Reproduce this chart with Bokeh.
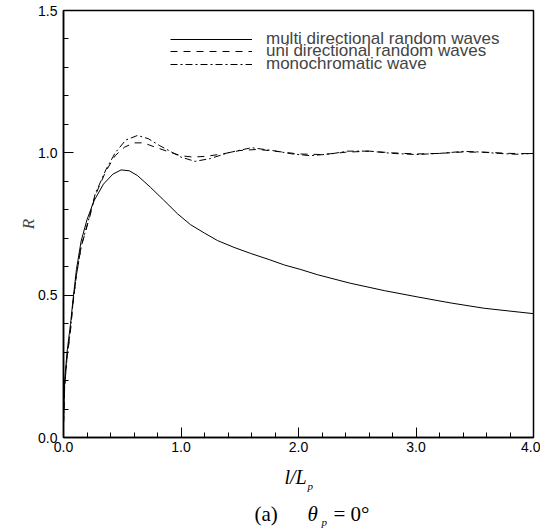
from bokeh.plotting import figure
from bokeh.layouts import column
from bokeh.models import (FixedTicker, PrintfTickFormatter, Legend, LegendItem, Range1d)
from bokeh.core.properties import value
from bokeh.embed import file_html
from bokeh.resources import INLINE

# ---- data ----
multi_x = [0, 0.01, 0.03, 0.06, 0.08, 0.11, 0.15, 0.2, 0.26, 0.34, 0.42, 0.49, 0.56, 0.63,
           0.74, 0.85, 0.97, 1.08, 1.2, 1.31, 1.45, 1.59, 1.75, 1.88, 2.02, 2.16, 2.44,
           2.73, 3.01, 3.29, 3.58, 4.0]
multi_r = [0.05, 0.2, 0.30, 0.40, 0.48, 0.59, 0.69, 0.765, 0.832, 0.89, 0.925, 0.94, 0.937,
           0.92, 0.879, 0.835, 0.786, 0.748, 0.718, 0.692, 0.668, 0.647, 0.625, 0.606, 0.59,
           0.572, 0.542, 0.516, 0.494, 0.473, 0.454, 0.435]

uni_x = [0, 0.01, 0.03, 0.06, 0.08, 0.11, 0.15, 0.22, 0.27, 0.36, 0.44, 0.52, 0.6, 0.68,
         0.78, 0.9, 1.0, 1.1, 1.22, 1.35, 1.5, 1.65, 1.8, 2.0, 2.2, 2.4, 2.6, 2.8, 3.0,
         3.2, 3.4, 3.6, 3.8, 4.0]
uni_r = [0.05, 0.18, 0.28, 0.38, 0.47, 0.57, 0.67, 0.77, 0.85, 0.935, 0.99, 1.02, 1.035,
         1.035, 1.02, 1.003, 0.99, 0.985, 0.988, 0.996, 1.008, 1.012, 1.006, 0.996, 0.994,
         1.002, 1.006, 1.0, 0.996, 0.998, 1.003, 1.002, 0.998, 0.997]

mono_x = [0, 0.01, 0.03, 0.06, 0.08, 0.11, 0.15, 0.22, 0.27, 0.36, 0.44, 0.53, 0.63, 0.72,
          0.82, 0.91, 1.0, 1.12, 1.25, 1.4, 1.6, 1.78, 1.95, 2.1, 2.27, 2.42, 2.6, 2.8,
          3.0, 3.2, 3.4, 3.55, 3.7, 3.85, 4.0]
mono_r = [0.05, 0.18, 0.28, 0.38, 0.47, 0.57, 0.67, 0.775, 0.856, 0.94, 1.0, 1.045, 1.061,
          1.05, 1.025, 1.005, 0.985, 0.97, 0.98, 1.0, 1.018, 1.008, 0.996, 0.99, 0.996,
          1.006, 1.006, 0.998, 0.994, 0.998, 1.005, 1.003, 0.998, 0.995, 0.998]

labels = ["multi directional random waves", "uni directional random waves", "monochromatic wave"]

x_major = [0, 1, 2, 3, 4]
x_minor = [0.2, 0.4, 0.6, 0.8, 1.2, 1.4, 1.6, 1.8, 2.2, 2.4, 2.6, 2.8, 3.2, 3.4, 3.6, 3.8]
y_major = [0, 0.5, 1.0, 1.5]
y_minor = [0.1, 0.2, 0.3, 0.4, 0.6, 0.7, 0.8, 0.9, 1.1, 1.2, 1.3, 1.4]

SANS = "Liberation Sans"
SERIF = "Liberation Serif"

W = 540
FL, FR, FT, FB = 63, 533, 10, 437   # frame left / right / top / bottom in page pixels
H1 = 462
p = figure(width=W, height=H1, output_backend="svg", toolbar_location=None,
           x_range=Range1d(0, 4), y_range=Range1d(0, 1.5),
           min_border_left=FL, min_border_right=W - FR, min_border_top=FT,
           min_border_bottom=H1 - FB)
p.background_fill_color = "white"
p.border_fill_color = "white"
p.grid.visible = False
p.outline_line_color = "black"
p.outline_line_width = 1.5

for ax in (p.xaxis[0], p.yaxis[0]):
    ax.axis_line_width = 1.5
    ax.axis_line_color = "black"
    ax.major_tick_in = 10
    ax.major_tick_out = 0
    ax.minor_tick_in = 5
    ax.minor_tick_out = 0
    ax.major_tick_line_color = "black"
    ax.minor_tick_line_color = "black"
    ax.major_label_text_font = SANS
    ax.major_label_text_font_size = "14px"
    ax.major_label_text_color = "black"
    ax.formatter = PrintfTickFormatter(format="%.1f")

p.xaxis[0].ticker = FixedTicker(ticks=x_major, minor_ticks=x_minor)
p.yaxis[0].ticker = FixedTicker(ticks=y_major, minor_ticks=y_minor)
p.xaxis[0].major_label_standoff = 4
p.yaxis[0].major_label_standoff = 6

p.yaxis[0].axis_label = "R"
p.yaxis[0].axis_label_text_font = SERIF
p.yaxis[0].axis_label_text_font_style = "italic"
p.yaxis[0].axis_label_text_font_size = "17px"
p.yaxis[0].axis_label_standoff = -3

r1 = p.line(multi_x, multi_r, line_color="black", line_width=1)
r2 = p.line(uni_x, uni_r, line_color="black", line_width=1, line_dash="7 6")
r3 = p.line(mono_x, mono_r, line_color="black", line_width=1, line_dash="7 3 2 3")

# one legend per row so the rows can sit 12.5 px apart as in the reference
row_centers = [39, 51.5, 64]
for lab, rr, c in zip(labels, [r1, r2, r3], row_centers):
    lg = Legend(items=[LegendItem(label=lab, renderers=[rr])],
                location=(107, 0), glyph_width=82, glyph_height=12,
                label_height=12, label_standoff=14, spacing=0, padding=0, margin=0,
                border_line_alpha=0, background_fill_alpha=0,
                label_text_font=SANS, label_text_font_size="17px",
                label_text_line_height=0.7)
    lg.location = (107, int(round(437 - c - 10)))
    p.add_layout(lg)

# ---- caption strip below the plot: axis title l/L_p and "(a) θ_p = 0°" ----
# (frames in a column are aligned, so this strip's frame spans page x FL..FR)
H2 = 531 - H1
cap = figure(width=W, height=H2, output_backend="svg", toolbar_location=None,
             x_range=Range1d(FL, FR), y_range=Range1d(H2, 0),
             x_axis_type=None, y_axis_type=None,
             min_border_left=FL, min_border_right=W - FR, min_border_top=0,
             min_border_bottom=0)
cap.grid.visible = False
cap.outline_line_color = None
cap.background_fill_color = "white"
cap.border_fill_color = "white"

def put(txt, px, py, size, style="normal"):
    cap.text(x=[px], y=[py - H1], text=[txt], text_font=value(SERIF), text_font_size=size,
             text_font_style=style, text_align="left", text_baseline="middle",
             text_color="black")

put("l/L", 284, 476, "20px", "italic")
put("p", 307, 485, "11px", "italic")
put("(a)", 254, 513, "21px")
put("\u03b8", 307, 513, "21px", "italic")
put("p", 321, 521, "11px", "italic")
put("= 0\u00b0", 333, 513, "21px")

layout = column(p, cap, spacing=0)
open("out.html", "w").write(file_html(layout, INLINE))
